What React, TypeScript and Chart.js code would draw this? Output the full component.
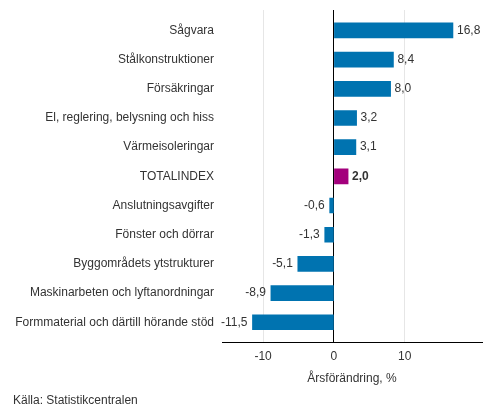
import React, { useEffect, useRef } from "react";
import { Chart, registerables } from "chart.js";

Chart.register(...registerables);

const categories = [
  "Sågvara",
  "Stålkonstruktioner",
  "Försäkringar",
  "El, reglering, belysning och hiss",
  "Värmeisoleringar",
  "TOTALINDEX",
  "Anslutningsavgifter",
  "Fönster och dörrar",
  "Byggområdets ytstrukturer",
  "Maskinarbeten och lyftanordningar",
  "Formmaterial och därtill hörande stöd",
];
const values = [16.8, 8.4, 8.0, 3.2, 3.1, 2.0, -0.6, -1.3, -5.1, -8.9, -11.5];
const xTicks = [-10, 0, 10];
const highlight = "TOTALINDEX";
const axisTitle = "Årsförändring, %";
const sourceText = "Källa: Statistikcentralen";

const BLUE = "#0073b0";
const MAGENTA = "#a3007c";
const FONT = '"Liberation Sans", Arial, sans-serif';

export default function App() {
  const ref = useRef<HTMLCanvasElement | null>(null);

  useEffect(() => {
    if (!ref.current) return;
    const valueLabels = {
      id: "valueLabels",
      afterDatasetsDraw(chart: any) {
        const ctx = chart.ctx;
        const meta = chart.getDatasetMeta(0);
        ctx.save();
        ctx.textBaseline = "middle";
        ctx.fillStyle = "#333333";
        meta.data.forEach((bar: any, i: number) => {
          const v = values[i];
          const bold = categories[i] === highlight;
          ctx.font = (bold ? "bold " : "") + "12px " + FONT;
          const txt = v.toFixed(1).replace(".", ",");
          if (v >= 0) {
            ctx.textAlign = "left";
            ctx.fillText(txt, bar.x + 4, bar.y);
          } else {
            ctx.textAlign = "right";
            ctx.fillText(txt, bar.x - 5, bar.y);
          }
        });
        ctx.restore();
      },
    };

    const chart = new Chart(ref.current, {
      type: "bar",
      data: {
        datasets: [
          {
            data: values.map((v, i) => ({ x: v, y: i })),
            backgroundColor: categories.map((c) => (c === highlight ? MAGENTA : BLUE)),
            borderWidth: 0,
            barThickness: 15,
          },
        ],
      },
      options: {
        indexAxis: "y",
        animation: false,
        responsive: false,
        devicePixelRatio: 1,
        layout: { padding: { left: 13, right: 11, top: 10, bottom: 0 } },
        plugins: {
          legend: { display: false },
          tooltip: { enabled: false },
          title: {
            display: true,
            text: sourceText,
            position: "bottom",
            align: "start",
            color: "#333333",
            font: { family: FONT, size: 12, weight: "normal" },
            padding: { top: 3.6, bottom: 7.8 },
          },
        },
        scales: {
          x: {
            type: "linear",
            min: -15.8,
            max: 20.9,
            afterBuildTicks: (scale: any) => {
              scale.ticks = xTicks.map((v) => ({ value: v }));
            },
            afterFit: (scale: any) => {
              scale.height = 47.5;
              scale.paddingLeft = 0;
              scale.paddingRight = 0;
            },
            ticks: {
              padding: 7,
              color: "#333333",
              font: { family: FONT, size: 12 },
              callback: (v: any) => String(v),
            },
            grid: {
              drawTicks: false,
              color: (c: any) => (c.tick && c.tick.value === 0 ? "#000000" : "#e6e6e6"),
              lineWidth: 1,
            },
            border: { display: true, color: "#000000", width: 1 },
            title: {
              display: true,
              text: axisTitle,
              color: "#333333",
              font: { family: FONT, size: 12 },
            },
          },
          y: {
            type: "linear",
            reverse: true,
            offset: false,
            min: -0.7,
            max: 10.7,
            afterBuildTicks: (scale: any) => {
              scale.ticks = categories.map((_, i) => ({ value: i }));
            },
            afterFit: (scale: any) => {
              scale.width = 209;
              scale.paddingTop = 0;
              scale.paddingBottom = 0;
            },
            ticks: {
              padding: 8,
              color: "#333333",
              font: { family: FONT, size: 12 },
              autoSkip: false,
              callback: (v: any) => categories[v] ?? "",
            },
            grid: { display: false, drawTicks: false, offset: false },
            border: { display: false },
          },
        },
      },
      plugins: [valueLabels],
    } as any);
    return () => chart.destroy();
  }, []);

  return (
    <div style={{ position: "absolute", left: 0, top: 0, width: 493, height: 416, background: "#fff" }}>
      <canvas ref={ref} width={493} height={416} />
    </div>
  );
}
